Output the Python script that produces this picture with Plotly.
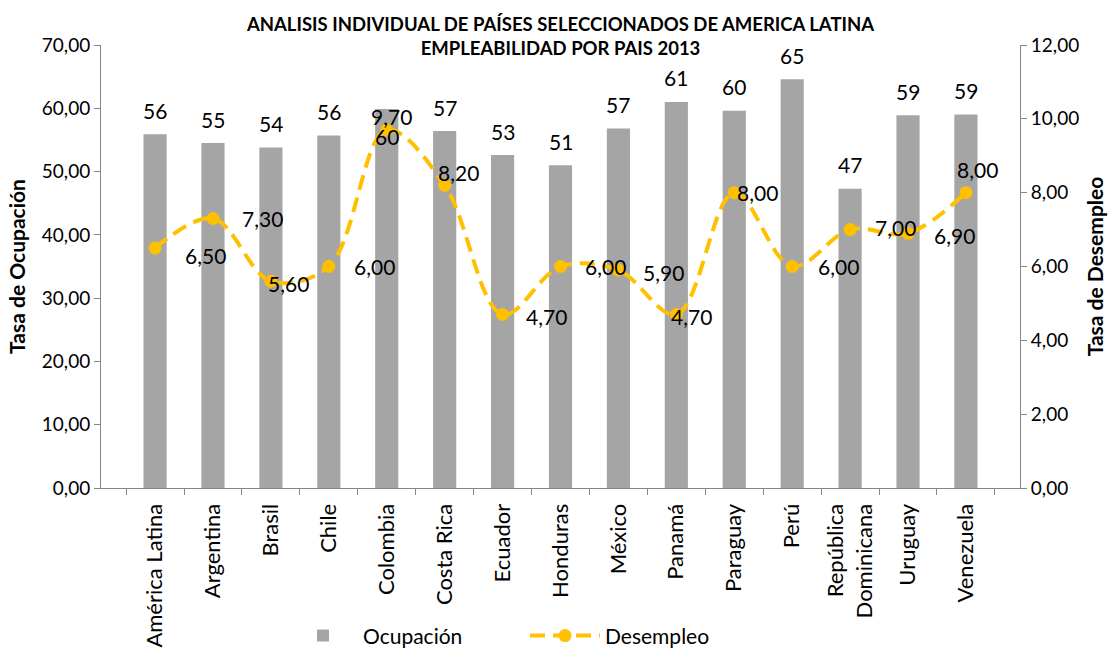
import plotly.graph_objects as go

categories = ["América Latina", "Argentina", "Brasil", "Chile", "Colombia", "Costa Rica",
              "Ecuador", "Honduras", "México", "Panamá", "Paraguay", "Perú",
              "República<br>Dominicana", "Uruguay", "Venezuela"]
ocupacion = [55.9, 54.5, 53.8, 55.7, 59.9, 56.4, 52.6, 51.0, 56.8, 61.0, 59.6, 64.6, 47.3, 58.9, 59.0]
ocupacion_labels = ["56", "55", "54", "56", "60", "57", "53", "51", "57", "61", "60", "65", "47", "59", "59"]
desempleo = [6.5, 7.3, 5.6, 6.0, 9.7, 8.2, 4.7, 6.0, 5.9, 4.7, 8.0, 6.0, 7.0, 6.9, 8.0]
desempleo_labels = ["6,50", "7,30", "5,60", "6,00", "9,70", "8,20", "4,70", "6,00", "5,90", "4,70",
                    "8,00", "6,00", "7,00", "6,90", "8,00"]

# label offsets (pixels) - styling only
bar_lbl_dy = [24, 24, 24, 24, -28, 24, 24, 24, 24, 24, 24, 24, 24, 24, 24]
line_lbl_dx = [50, 50, 18, 46, 5, 14, 44, 45, 45, 15, 23, 46, 45, 46, 12]
line_lbl_dy = [-7, 0, -2, 0, 13, 13, -2, 0, -2, -2, 0, 0, 2, -2, 23]

FONT = "Lato"
AX = "#868686"
fig = go.Figure()
fig.add_trace(go.Bar(x=categories, y=ocupacion, name="Ocupación",
                     marker=dict(color="#A5A5A5", line=dict(width=0)), yaxis="y"))
fig.add_trace(go.Scatter(x=categories, y=desempleo, name="Desempleo", yaxis="y2",
                         mode="lines+markers",
                         line=dict(color="#FFC000", width=4, dash="15px,8px", shape="spline", smoothing=1.0),
                         marker=dict(color="#FFC000", size=13, symbol="circle")))

annotations = []
for i, c in enumerate(categories):
    annotations.append(dict(x=c, y=ocupacion[i], xref="x", yref="y", text=ocupacion_labels[i],
                            showarrow=False, yshift=bar_lbl_dy[i],
                            font=dict(family=FONT, size=21, color="#000000")))
    annotations.append(dict(x=c, y=desempleo[i], xref="x", yref="y2", text=desempleo_labels[i],
                            showarrow=False, xshift=line_lbl_dx[i], yshift=line_lbl_dy[i],
                            font=dict(family=FONT, size=21, color="#000000")))

fig.update_layout(
    width=1118, height=648,
    paper_bgcolor="white", plot_bgcolor="white",
    separators=",.",
    font=dict(family=FONT, size=19, color="#000000"),
    margin=dict(l=101, r=98, t=45, b=160, autoexpand=False),
    title=dict(text="<b>ANALISIS INDIVIDUAL DE PAÍSES SELECCIONADOS DE AMERICA LATINA<br>EMPLEABILIDAD POR PAIS 2013</b>",
               x=0.5, xanchor="center", xref="paper", y=1 - 31 / 648, yanchor="middle",
               font=dict(family=FONT, size=18.5, color="#000000")),
    bargap=0.6,
    showlegend=True,
    legend=dict(orientation="h", x=(283 - 101) / 919, xanchor="left", y=-0.334, yanchor="middle",
                font=dict(family=FONT, size=21), itemwidth=70,
                entrywidth=157, entrywidthmode="pixels"),
    xaxis=dict(type="category", tickangle=-90, showline=True, linecolor=AX, linewidth=1,
               ticks="outside", ticklen=6, tickcolor=AX, tickson="boundaries", ticklabelstandoff=6,
               showgrid=False, automargin=False, tickfont=dict(family=FONT, size=22)),
    yaxis=dict(range=[0, 70], dtick=10, tickformat=".2f", showline=True, linecolor=AX,
               ticks="outside", ticklen=6, tickcolor=AX, showgrid=False, zeroline=False,
               automargin=False,
               title=dict(text="<b>Tasa de Ocupación</b>", font=dict(family=FONT, size=21), standoff=10),
               tickfont=dict(family=FONT, size=19)),
    yaxis2=dict(range=[0, 12], dtick=2, tickformat=".2f", overlaying="y", side="right",
                showline=True, linecolor=AX, ticks="outside", ticklen=6, tickcolor=AX,
                showgrid=False, zeroline=False, automargin=False,
                title=dict(text="<b>Tasa de Desempleo</b>", font=dict(family=FONT, size=21), standoff=10),
                tickfont=dict(family=FONT, size=19)),
    annotations=annotations,
)

fig.write_html("out.html", config={"displayModeBar": False},
               post_script="document.body.style.margin='0';document.body.style.overflow='hidden';")
